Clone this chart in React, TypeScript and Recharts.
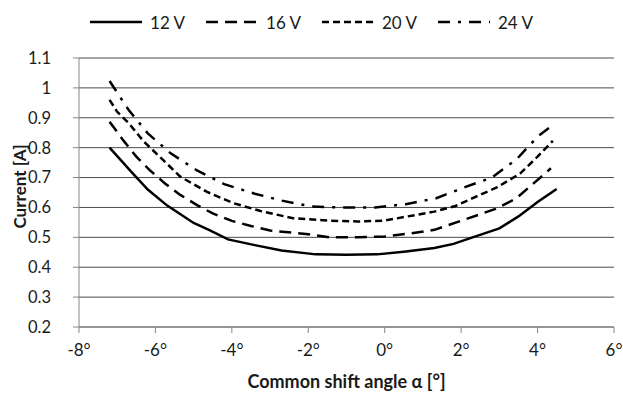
import React from 'react'
import { LineChart, Line, XAxis, YAxis, CartesianGrid, Legend } from 'recharts';

// measured current vs. common shift angle, one series per supply voltage
const angles12 = [-7.2, -6.6, -6.2, -5.7, -5.0, -4.6, -4.1, -3.4, -2.7, -1.8, -1.0, -0.2, 0.5, 1.3, 1.8, 2.3, 3.0, 3.5, 4.0, 4.5];
const current12 = [0.8, 0.715, 0.66, 0.607, 0.548, 0.525, 0.493, 0.474, 0.456, 0.443, 0.442, 0.443, 0.452, 0.464, 0.478, 0.5, 0.53, 0.57, 0.618, 0.662];

const angles16 = [-7.2, -6.85, -6.5, -6.15, -5.75, -5.35, -4.9, -4.5, -4.0, -3.5, -3.0, -2.0, -1.45, -0.7, 0.0, 0.6, 1.3, 2.1, 2.9, 3.45, 3.8, 4.35];
const current16 = [0.887, 0.826, 0.77, 0.725, 0.68, 0.642, 0.607, 0.58, 0.555, 0.538, 0.523, 0.51, 0.5, 0.5, 0.503, 0.512, 0.525, 0.56, 0.595, 0.631, 0.67, 0.731];

const angles20 = [-7.2, -7.0, -6.7, -6.3, -5.85, -5.35, -4.65, -3.95, -3.25, -2.4, -1.5, -0.7, 0.0, 0.6, 1.3, 1.85, 2.3, 2.95, 3.55, 4.0, 4.4];
const current20 = [0.96, 0.92, 0.882, 0.82, 0.765, 0.703, 0.652, 0.614, 0.588, 0.564, 0.556, 0.553, 0.556, 0.57, 0.586, 0.605, 0.631, 0.668, 0.714, 0.77, 0.823];

const angles24 = [-7.2, -6.7, -6.2, -5.6, -4.9, -4.2, -3.4, -2.7, -1.9, -1.1, -0.25, 0.55, 1.35, 2.1, 2.8, 3.45, 4.0, 4.38];
const current24 = [1.023, 0.926, 0.848, 0.781, 0.723, 0.678, 0.646, 0.623, 0.603, 0.6, 0.6, 0.611, 0.631, 0.668, 0.7, 0.761, 0.837, 0.874];

const xTicks = [-8, -6, -4, -2, 0, 2, 4, 6];
const yTicks = [0.2, 0.3, 0.4, 0.5, 0.6, 0.7, 0.8, 0.9, 1, 1.1];

const toPoints = (angles: number[], values: number[]) =>
  angles.map((angle, i) => ({ angle, current: values[i] }));

const series = [
  { name: '12 V', data: toPoints(angles12, current12), dash: undefined },
  { name: '16 V', data: toPoints(angles16, current16), dash: '12 7' },
  { name: '20 V', data: toPoints(angles20, current20), dash: '7 4' },
  { name: '24 V', data: toPoints(angles24, current24), dash: '12 8 3 8' },
];

const FONT = 'Lato, "Open Sans", sans-serif';
const TEXT = '#1a1a1a';
const AXIS = '#868686';

const renderLegend = () => (
  <div style={{ display: 'flex', justifyContent: 'center', alignItems: 'center', height: 36, fontFamily: FONT, fontSize: 17, color: TEXT }}>
    {series.map((s, i) => (
      <div key={s.name} style={{ display: 'flex', alignItems: 'center', marginLeft: i ? 21 : 0 }}>
        <svg width={52} height={10}>
          <line x1={0} y1={5} x2={52} y2={5} stroke="#000" strokeWidth={2.5} strokeDasharray={s.dash} />
        </svg>
        <span style={{ marginLeft: 8 }}>{s.name}</span>
      </div>
    ))}
  </div>
);

const YTitle = (props: any) => {
  const { x, y, height } = props.viewBox;
  const cx = x + 19;
  const cy = y + height / 2 - 6;
  return (
    <text x={cx} y={cy} transform={`rotate(-90 ${cx} ${cy})`} textAnchor="middle" dominantBaseline="central"
      fontFamily={FONT} fontSize={17} fontWeight="bold" fill={TEXT}>
      Current [A]
    </text>
  );
};

const XTitle = (props: any) => {
  const { x, y, width } = props.viewBox;
  return (
    <text x={x + width / 2} y={y + 54} textAnchor="middle" dominantBaseline="central"
      fontFamily={FONT} fontSize={18} fontWeight="bold" fill={TEXT}>
      Common shift angle α [°]
    </text>
  );
};

export default function App() {
  return (
    <div style={{ position: 'absolute', left: 0, top: 0, background: '#fff' }}>
      <LineChart width={623} height={396} margin={{ top: 22, right: 9, bottom: 0, left: 0 }}>
        <Legend verticalAlign="top" content={renderLegend} wrapperStyle={{ top: 4, left: 0, width: 623 }} />
        <CartesianGrid vertical={false} stroke="#4a4a4a" strokeWidth={1} />
        <XAxis
          type="number"
          dataKey="angle"
          domain={[-8, 6]}
          ticks={xTicks}
          tickFormatter={(v: number) => `${v}°`}
          height={69}
          tickSize={6}
          tickMargin={11}
          stroke={AXIS}
          tick={{ fill: TEXT, fontFamily: FONT, fontSize: 17 }}
          label={<XTitle />}
        />
        <YAxis
          type="number"
          domain={[0.2, 1.1]}
          ticks={yTicks}
          width={79}
          tickSize={6}
          tickMargin={22}
          stroke={AXIS}
          tick={{ fill: TEXT, fontFamily: FONT, fontSize: 16.5 }}
          label={<YTitle />}
        />
        {series.map((s) => (
          <Line
            key={s.name}
            name={s.name}
            data={s.data}
            dataKey="current"
            type="linear"
            stroke="#000"
            strokeWidth={2.5}
            strokeDasharray={s.dash}
            dot={false}
            isAnimationActive={false}
          />
        ))}
      </LineChart>
    </div>
  )
}
